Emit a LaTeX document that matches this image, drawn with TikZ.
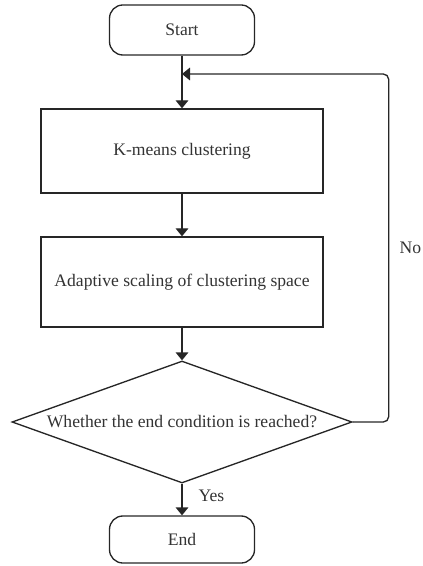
\documentclass[tikz,border=0pt]{standalone}
\usepackage{fontspec}
\setmainfont{Liberation Serif}
\usetikzlibrary{arrows.meta,shapes.geometric}

\tikzset{every picture/.style={line width=1pt}}
\tikzset{
	termbox/.style={draw=black!85,rounded corners=10pt,minimum width=108.75pt,minimum height=37.5pt,text=black!80},
	procbox/.style={draw=black!85,minimum width=211.5pt,text=black!80},
	decbox/.style={draw=black!85,diamond,aspect=2.79,inner sep=0pt,minimum width=255pt,minimum height=91.5pt,text=black!80},
	arr/.style={draw=black!85,-{Triangle[length=6pt,width=9.5pt]}}
}

\begin{document}
\begin{tikzpicture}[x=0.75pt,y=0.75pt,yscale=-1,xscale=1,font=\fontsize{13.2}{15}\selectfont]
		\useasboundingbox (0,0) rectangle (422,566);
		
		%Shape: Rounded Rect [id:start]
		\node [termbox] (start) at (182,30) {Start};
		%Shape: Rectangle [id:kmeans]
		\node [procbox,minimum height=63pt] (kmeans) at (182,151) {K-means clustering};
		%Shape: Rectangle [id:scaling]
		\node [procbox,minimum height=67.5pt] (scaling) at (182,282) {Adaptive scaling of clustering space};
		%Shape: Diamond [id:check]
		\node [decbox] (check) at (182,422) {Whether the end condition is reached?};
		%Shape: Rounded Rect [id:end]
		\node [termbox,minimum height=35.25pt] (end) at (182,539.5) {End};
		
		%Straight Lines
		\coordinate (loop) at (182,74);
		\draw [arr] (start) -- (kmeans);
		\draw [arr] (kmeans) -- (scaling);
		\draw [arr] (scaling) -- (check);
		\draw [arr] (check) -- (end);
		%Straight Lines (feedback)
		\draw [arr,rounded corners=4pt] (check.east) -- ++(36,0) |- (loop);
		
		% Text Node
		\draw (197,496) node [anchor=west][inner sep=0.75pt,text=black!80]    {Yes};
		% Text Node
		\draw (399,248) node [anchor=west][inner sep=0pt,text=black!80]    {No};
		
	\end{tikzpicture}
\end{document}
